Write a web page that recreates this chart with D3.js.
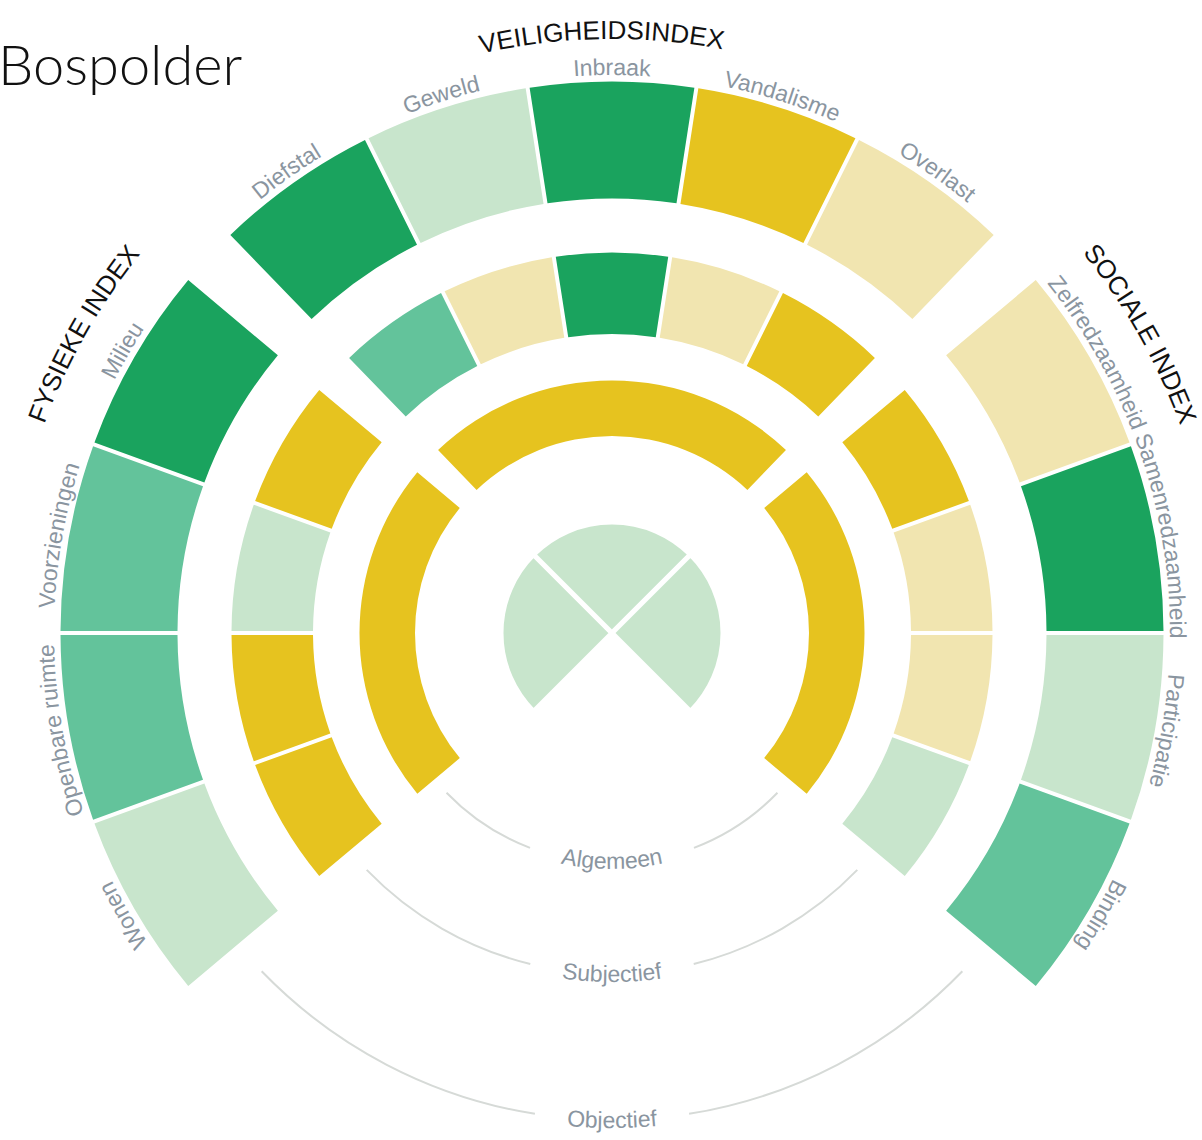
<!DOCTYPE html>
<html>
<head>
<meta charset="utf-8">
<script src="https://cdn.jsdelivr.net/npm/d3@7"></script>
<style>
  html, body { margin: 0; padding: 0; background: #fff; }
  svg { display: block; }
</style>
</head>
<body>
<svg id="chart" width="1202" height="1140"></svg>
<script>
// ---- Wijkprofiel Bospolder: indexen en thema's ----
const wijk = "Bospolder";
const indexen = ["FYSIEKE INDEX", "VEILIGHEIDSINDEX", "SOCIALE INDEX"];
const fysiekeThemas = ["Wonen", "Openbare ruimte", "Voorzieningen", "Milieu"];
const veiligheidThemas = ["Diefstal", "Geweld", "Inbraak", "Vandalisme", "Overlast"];
const socialeThemas = ["Zelfredzaamheid", "Samenredzaamheid", "Participatie", "Binding"];

// scoreklassen: 1 = ruim boven gemiddeld ... 5 = onder gemiddeld
const klassen = [1, 2, 3, 4, 5];
const klasseKleuren = ["#1aa35e", "#63c39b", "#c8e5cc", "#f1e5b0", "#e6c31f"];

// objectieve scores per thema
const fysiekObjectief = [3, 2, 2, 1];
const veiligheidObjectief = [1, 3, 1, 5, 4];
const socialeObjectief = [4, 1, 3, 2];

// subjectieve scores per thema
const fysiekSubjectief = [5, 5, 3, 5];
const veiligheidSubjectief = [2, 4, 1, 4, 5];
const socialeSubjectief = [5, 4, 4, 3];

// algemene score per index en de totaalscore in het hart
const algemeen = [5, 5, 5];
const totaal = [3, 3, 3];

const ringNamen = ["Algemeen", "Subjectief", "Objectief"];

// ---- opmaak ----
const cx = 612, cy = 633;
const deg = Math.PI / 180;
const sectorHoeken = [[-130, -50], [-44, 44], [50, 130]];
const kernHoeken = [[-135, -45], [-45, 45], [45, 135]];
const titelHoeken = [-60.5, -1, 60.5];
const titelStralen = [605, 594, 605];
const ringStralen = { algemeen: [197, 252.5], subjectief: [299, 380.5], objectief: [434.5, 551.5] };
const kernStraal = 111;
const themaLabelStraal = 558;
const lijnStralen = [230, 341, 487];
const ringLabelStralen = [236, 349, 495];
const lijnEindHoek = 134;
const grijs = "#8a95a0";

const kleur = d3.scaleOrdinal().domain(klassen).range(klasseKleuren);

const svg = d3.select("#chart");
const defs = svg.append("defs");
const g = svg.append("g").attr("transform", `translate(${cx},${cy})`);

// titel
svg.append("text")
  .attr("x", -2).attr("y", 85)
  .attr("font-family", "Lato, 'Open Sans', sans-serif")
  .attr("font-weight", 300)
  .attr("font-size", 56)
  .attr("fill", "#111")
  .text(wijk);

const themas = [fysiekeThemas, veiligheidThemas, socialeThemas];
const objectief = [fysiekObjectief, veiligheidObjectief, socialeObjectief];
const subjectief = [fysiekSubjectief, veiligheidSubjectief, socialeSubjectief];

function segmenten(scores) {
  const uit = [];
  themas.forEach((lijst, i) => {
    const band = d3.scaleBand().domain(lijst).range(sectorHoeken[i].map(a => a * deg));
    lijst.forEach((t, j) => uit.push({
      index: i, thema: t, klasse: scores[i][j],
      a0: band(t), a1: band(t) + band.bandwidth()
    }));
  });
  return uit;
}

function ringBoog(r) {
  return d3.arc()
    .innerRadius(r[0]).outerRadius(r[1])
    .startAngle(d => d.a0).endAngle(d => d.a1)
    .padAngle(0.02).padRadius(200);
}

// objectieve ring (buiten)
const objSeg = segmenten(objectief);
g.append("g").selectAll("path").data(objSeg).join("path")
  .attr("d", ringBoog(ringStralen.objectief))
  .attr("fill", d => kleur(d.klasse));

// subjectieve ring (midden)
g.append("g").selectAll("path").data(segmenten(subjectief)).join("path")
  .attr("d", ringBoog(ringStralen.subjectief))
  .attr("fill", d => kleur(d.klasse));

// algemene ring (binnen)
const algSeg = indexen.map((n, i) => ({
  index: i, klasse: algemeen[i],
  a0: sectorHoeken[i][0] * deg, a1: sectorHoeken[i][1] * deg
}));
g.append("g").selectAll("path").data(algSeg).join("path")
  .attr("d", ringBoog(ringStralen.algemeen))
  .attr("fill", d => kleur(d.klasse));

// hart: totaalscore per index
const kernSeg = indexen.map((n, i) => ({
  klasse: totaal[i], a0: kernHoeken[i][0] * deg, a1: kernHoeken[i][1] * deg
}));
g.append("g").selectAll("path").data(kernSeg).join("path")
  .attr("d", d3.arc().innerRadius(0).outerRadius(kernStraal).startAngle(d => d.a0).endAngle(d => d.a1))
  .attr("fill", d => kleur(d.klasse))
  .attr("stroke", "#fff").attr("stroke-width", 5).attr("stroke-linejoin", "miter");

// boogpad rond het middelpunt (hoeken in graden, 0 = boven, met de klok mee)
function boogPad(r, a0, a1) {
  const p = a => [r * Math.sin(a * deg), -r * Math.cos(a * deg)];
  const [x0, y0] = p(a0), [x1, y1] = p(a1);
  const groot = Math.abs(a1 - a0) > 180 ? 1 : 0;
  const kloksgewijs = a1 > a0 ? 1 : 0;
  return `M${x0},${y0} A${r},${r} 0 ${groot} ${kloksgewijs} ${x1},${y1}`;
}

function boogTekst(id, r, a0, a1, tekst, opmaak) {
  defs.append("path").attr("id", id).attr("d", boogPad(r, a0, a1));
  const t = g.append("text")
    .attr("font-family", "'Liberation Sans', Arial, sans-serif")
    .attr("font-size", opmaak.size)
    .attr("fill", opmaak.fill);
  t.append("textPath")
    .attr("href", "#" + id)
    .attr("startOffset", "50%")
    .attr("text-anchor", "middle")
    .text(tekst);
  return t;
}

// themalabels buiten de objectieve ring
objSeg.forEach((d, k) => {
  const mid = (d.a0 + d.a1) / 2 / deg;
  boogTekst("thema" + k, themaLabelStraal, mid - 60, mid + 60, d.thema, { size: 23, fill: grijs });
});

// indextitels
indexen.forEach((n, i) => {
  boogTekst("index" + i, titelStralen[i], titelHoeken[i] - 60, titelHoeken[i] + 60, n, { size: 26, fill: "#111" });
});

// ringnamen onderin met dunne lijnen
ringNamen.forEach((n, i) => {
  const t = boogTekst("ring" + i, ringLabelStralen[i], 240, 120, n, { size: 23, fill: grijs });
  const lengte = t.node().getComputedTextLength();
  const open = (lengte / 2 + 32) / lijnStralen[i] / deg;
  [[lijnEindHoek, 180 - open], [180 + open, 360 - lijnEindHoek]].forEach(([a0, a1]) => {
    g.append("path")
      .attr("d", boogPad(lijnStralen[i], a0, a1))
      .attr("fill", "none")
      .attr("stroke", "#d6dad7")
      .attr("stroke-width", 2);
  });
});
</script>
</body>
</html>
